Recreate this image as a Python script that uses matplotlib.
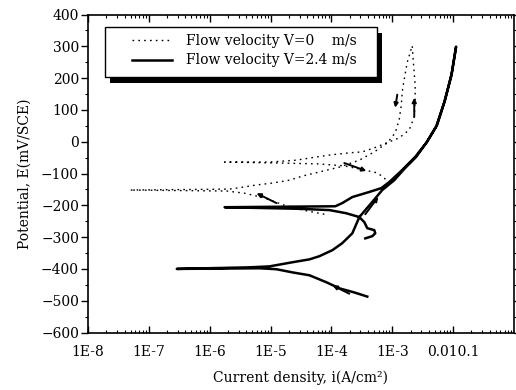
import matplotlib.pyplot as plt
from matplotlib.patches import Rectangle
from matplotlib.ticker import FixedLocator, MultipleLocator, LogLocator, NullFormatter

# V = 0 m/s (dotted), current density A/cm2 and potential mV/SCE, in scan order
i_v0 = [7.67e-5, 3.35e-5, 1.70e-5, 7.98e-6, 3.75e-6, 1.90e-6, 4.89e-8, 2.13e-6,
        3.48e-6, 5.89e-6, 1.08e-5, 2.05e-5, 3.35e-5, 6.35e-5, 1.35e-4, 2.88e-4,
        5.07e-4, 8.28e-4, 1.12e-3, 1.30e-3, 1.41e-3, 1.46e-3, 1.57e-3, 1.76e-3,
        2.13e-3, 2.21e-3, 2.38e-3, 2.38e-3, 2.30e-3, 1.90e-3, 1.30e-3, 7.98e-4,
        5.47e-4, 3.22e-4, 1.97e-4, 9.27e-5, 5.68e-5, 2.67e-5, 9.64e-6, 1.76e-6,
        1.41e-5, 6.35e-5, 1.63e-4, 3.48e-4, 5.68e-4, 7.40e-4, 8.93e-4]
e_v0 = [-228, -215, -200, -177, -162, -155, -152, -149,
        -143, -136, -130, -121, -108, -95, -80, -58,
        -32, -4, 28, 69, 116, 157, 195, 249,
        302, 258, 179, 132, 78, 37, 12, -4,
        -17, -32, -35, -42, -48, -58, -64, -64,
        -67, -70, -76, -89, -98, -114, -133]

# V = 2.4 m/s (solid)
i_v24 = [3.89e-4, 2.38e-4, 1.35e-4, 8.28e-5, 4.36e-5, 2.30e-5, 1.25e-5, 6.61e-6,
         2.88e-7, 4.53e-6, 9.64e-6, 2.30e-5, 4.36e-5, 6.35e-5, 1.04e-4, 1.51e-4,
         2.21e-4, 2.88e-4, 4.53e-4, 6.85e-4, 1.08e-3, 1.57e-3, 2.47e-3, 3.61e-3,
         5.26e-3, 7.11e-3, 9.27e-3, 1.12e-2,
         9.64e-3, 7.40e-3, 5.47e-3, 3.75e-3, 2.38e-3, 1.46e-3, 8.93e-4, 6.61e-4,
         4.20e-4, 2.21e-4, 1.51e-4, 1.16e-4, 1.76e-6, 2.99e-5, 9.27e-5, 1.76e-4,
         2.88e-4, 3.48e-4, 3.89e-4, 5.07e-4, 5.26e-4, 4.70e-4, 3.61e-4]
e_v24 = [-487, -474, -461, -442, -420, -411, -401, -398,
         -400, -395, -392, -379, -370, -360, -341, -319,
         -288, -237, -193, -152, -121, -86, -48, -4,
         47, 122, 204, 299,
         220, 132, 53, 0, -48, -89, -127, -146,
         -158, -174, -193, -203, -206, -211, -215, -225,
         -237, -253, -272, -278, -288, -297, -304]

# scan direction arrows: (tail i, tail E, head i, head E)
arrows = [(1.25e-5, -193, 5.89e-6, -162),
          (1.63e-4, -67, 3.75e-4, -92),
          (1.21e-3, 148, 1.12e-3, 107),
          (2.30e-3, 78, 2.30e-3, 138),
          (3.61e-4, -228, 5.89e-4, -174),
          (1.97e-4, -478, 1.05e-4, -452)]

x_ticks = [1e-8, 1e-7, 1e-6, 1e-5, 1e-4, 1e-3, 1e-2]
x_labels = ['1E-8', '1E-7', '1E-6', '1E-5', '1E-4', '1E-3', '0.010.1']

plt.rcParams['font.family'] = 'DejaVu Serif'
plt.rcParams['font.size'] = 9

fig = plt.figure(figsize=(5.16, 3.90), dpi=100)
ax = fig.add_axes([0.1705, 0.1474, 0.8255, 0.8154])

ax.plot(i_v0, e_v0, color='black', lw=1.0, linestyle=(0, (1.2, 3)),
        label='Flow velocity V=0    m/s')
ax.plot(i_v24, e_v24, color='black', lw=1.8, label='Flow velocity V=2.4 m/s')

for x0, y0, x1, y1 in arrows:
    ax.annotate('', xy=(x1, y1), xytext=(x0, y0),
                arrowprops=dict(arrowstyle='-|>', color='black', lw=1.4,
                                mutation_scale=6, shrinkA=0, shrinkB=0))

ax.set_xscale('log')
ax.set_xlim(1e-8, 1e-1)
ax.set_ylim(-600, 400)
ax.xaxis.set_major_locator(FixedLocator(x_ticks))
ax.set_xticklabels(x_labels)
ax.xaxis.set_minor_locator(LogLocator(base=10, subs=range(2, 10), numticks=20))
ax.xaxis.set_minor_formatter(NullFormatter())
ax.yaxis.set_major_locator(MultipleLocator(100))
ax.yaxis.set_minor_locator(MultipleLocator(50))

ax.tick_params(which='both', top=True, right=True, direction='in', labelsize=10)
ax.tick_params(axis='y', which='both', left=True, direction='out')
ax.tick_params(axis='x', which='major', pad=9)
ax.tick_params(axis='y', which='major', pad=1.5)
ax.tick_params(which='major', length=5, width=1)
ax.tick_params(which='minor', length=2.5, width=0.8)
for s in ax.spines.values():
    s.set_linewidth(1.2)

ax.set_xlabel('Current density, i(A/cm²)', fontsize=10, labelpad=8)
ax.set_ylabel('Potential, E(mV/SCE)', fontsize=10, labelpad=7)

# legend box with a solid black drop shadow
ax.add_patch(Rectangle((0.052, 0.784), 0.638, 0.158, transform=ax.transAxes,
                       facecolor='black', edgecolor='none', zorder=4))
ax.add_patch(Rectangle((0.040, 0.803), 0.638, 0.158, transform=ax.transAxes,
                       facecolor='white', edgecolor='black', lw=1.0, zorder=5))
leg = ax.legend(loc='upper left', bbox_to_anchor=(0.103, 0.94), borderaxespad=0,
                borderpad=0, frameon=False, fontsize=10,
                handlelength=2.9, handletextpad=1.0, labelspacing=0.42)
leg.set_zorder(6)

plt.savefig('out.png', dpi=100)
